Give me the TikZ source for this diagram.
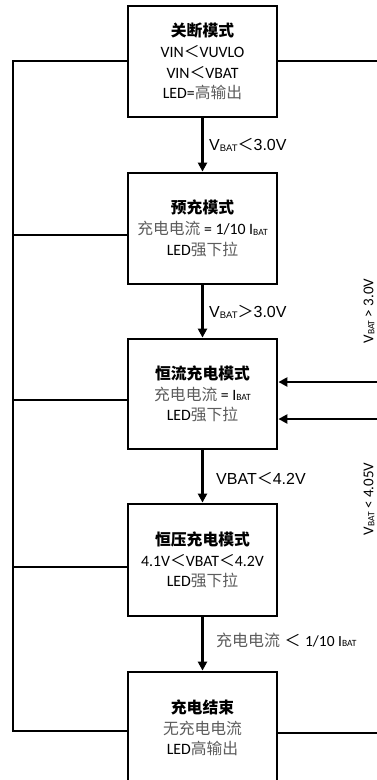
\documentclass[tikz,border=0pt]{standalone}
\usepackage{fontspec}
\usetikzlibrary{arrows.meta}
\setmainfont{Carlito}
\newfontfamily\cjk{Noto Sans CJK SC}
\newfontfamily\arialf{Liberation Sans}
\definecolor{zhgray}{gray}{0.36}
\newcommand{\zh}[1]{{\cjk\color{zhgray}#1}}
\newcommand{\zb}[1]{{\cjk\bfseries #1}}
\newcommand{\lt}{{\cjk ＜}}
\newcommand{\gtc}{{\cjk ＞}}
\newcommand{\sbat}{\raisebox{-0.8pt}{\fontsize{9.5}{9.5}\selectfont BAT}}
\begin{document}
\begin{tikzpicture}[x=1pt,y=-1pt,
  box/.style={draw=black, line width=2.8pt, minimum width=149pt, inner sep=0pt, align=center,
    font=\fontsize{15.8}{20.7}\selectfont},
  ln/.style={line width=2.8pt},
  arr/.style={line width=2.8pt, -{Triangle[width=9pt,length=9pt]}},
  lbl/.style={anchor=west, inner sep=0pt, font=\arialf\fontsize{16}{18}\selectfont},
  rlbl/.style={inner sep=0pt, rotate=90, font=\fontsize{15}{16}\selectfont}]
\useasboundingbox (0,0) rectangle (377,780);
\clip (0,0) rectangle (377,780);
\node[box, minimum height=111pt] (b1) at (202.5,61.5)
  {\zb{关断模式}\\VIN\lt VUVLO\\VIN\lt VBAT\\LED=\zh{高输出}};
\node[box, minimum height=111pt] (b2) at (202.5,228.5)
  {\zb{预充模式}\\\zh{充电电流} = 1/10 I\sbat\\LED\zh{强下拉}};
\node[box, minimum height=110pt] (b3) at (202.5,394)
  {\zb{恒流充电模式}\\\zh{充电电流} = I\sbat\\LED\zh{强下拉}};
\node[box, minimum height=112pt] (b4) at (202.5,560)
  {\zb{恒压充电模式}\\4.1V\lt VBAT\lt 4.2V\\LED\zh{强下拉}};
\node[box, minimum height=112pt] (b5) at (202.5,728)
  {\zb{充电结束}\\\zh{无充电电流}\\LED\zh{高输出}};
\draw[arr] (b1) -- (b2);
\draw[arr] (b2) -- (b3);
\draw[arr] (b3) -- (b4);
\draw[arr] (b4) -- (b5);
\node[lbl] (l1) at (209,145) {V\sbat\lt 3.0V};
\node[lbl] (l2) at (209,312) {V\sbat\gtc 3.0V};
\node[lbl] (l3) at (216,478) {VBAT\lt 4.2V};
\node[lbl] (l4) at (216,640) {{\cjk\color{zhgray}充电电流} \lt{} {\fontsize{15.5}{16}\selectfont\rmfamily 1/10 I\sbat}};
% left bus
\coordinate (j1) at (13,61);
\coordinate (j2) at (13,235);
\coordinate (j3) at (13,400);
\coordinate (j4) at (13,567);
\coordinate (j5) at (13,731);
\draw[ln] (j1 -| b1.west) -- (j1) -- (j5) -- (j5 -| b5.west);
\draw[ln] (j2) -- (j2 -| b2.west);
\draw[ln] (j3) -- (j3 -| b3.west);
\draw[ln] (j4) -- (j4 -| b4.west);
% right side
\coordinate (e1) at (380,61);
\coordinate (e5) at (380,733);
\coordinate (e2) at (380,382);
\coordinate (e3) at (380,419);
\draw[ln] (e1 -| b1.east) -- (e1);
\draw[ln] (e5 -| b5.east) -- (e5);
\draw[arr] (e2) -- (e2 -| b3.east);
\draw[arr] (e3) -- (e3 -| b3.east);
\node[rlbl] (r1) at (369,311) {V\sbat{} > 3.0V};
\node[rlbl] (r2) at (369,499) {V\sbat{} < 4.05V};
\end{tikzpicture}
\end{document}
